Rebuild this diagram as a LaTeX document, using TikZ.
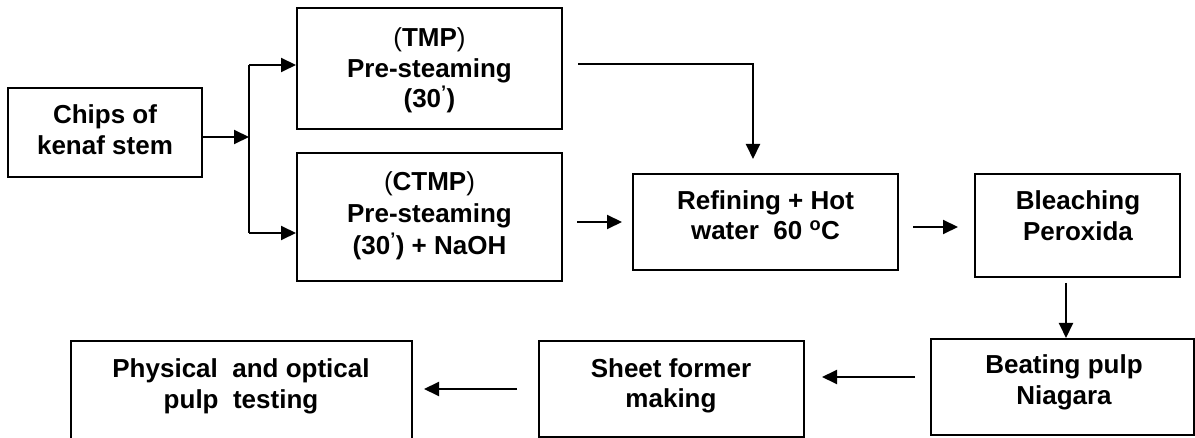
\documentclass[tikz,border=0pt]{standalone}
\usepackage{fontspec}
\setmainfont{Liberation Sans}
\usetikzlibrary{arrows.meta,calc}
\begin{document}
\begin{tikzpicture}[x=1pt,y=-1pt,
  box/.style={draw=black, line width=2pt, rectangle, inner sep=0pt},
  lbl/.style={anchor=base, align=center, inner sep=0pt, font=\fontsize{26}{31}\selectfont\bfseries},
  arr/.style={line width=2pt, -{Triangle[length=15pt,width=14pt]}},
  ln/.style={line width=2pt}]
\fill[white] (0,0) rectangle (1195,438);
\useasboundingbox (0,0) rectangle (1195,438);
% boxes
\node[box, minimum width=194pt, minimum height=89pt] (chips) at (105,132.5) {};
\node[box, minimum width=265pt, minimum height=121pt] (tmp) at (429.5,68.5) {};
\node[box, minimum width=265pt, minimum height=128pt] (ctmp) at (429.5,217) {};
\node[box, minimum width=265pt, minimum height=96pt] (refining) at (765.5,222) {};
\node[box, minimum width=205pt, minimum height=103pt] (bleaching) at (1077.5,225.5) {};
\node[box, minimum width=263pt, minimum height=96pt] (beating) at (1062.5,387) {};
\node[box, minimum width=265pt, minimum height=96pt] (sheet) at (671.5,389) {};
\node[box, minimum width=341pt, minimum height=110pt] (physical) at (241.5,396) {};
% texts (base anchor = last line's baseline)
\node[lbl] (chipsT) at (105,155) {Chips of\\kenaf stem};
\node[lbl, font=\fontsize{26}{30.5}\selectfont\bfseries] (tmpT) at (429.5,108) {{\mdseries(}TMP{\mdseries)}\\Pre-steaming\\(30\textsuperscript{’})};
\node[lbl, font=\fontsize{26}{32}\selectfont\bfseries] (ctmpT) at (429.5,255) {{\mdseries(}CTMP{\mdseries)}\\Pre-steaming\\(30\textsuperscript{’}) + NaOH};
\node[lbl, font=\fontsize{26}{30}\selectfont\bfseries] (refT) at (765.5,240) {Refining + Hot\\water\ \ 60 \textsuperscript{o}C};
\node[lbl] (bleT) at (1078,241) {Bleaching\\Peroxida};
\node[lbl, font=\fontsize{26}{32}\selectfont\bfseries] (beaT) at (1064,405) {Beating pulp\\Niagara};
\node[lbl, font=\fontsize{26}{30}\selectfont\bfseries] (sheT) at (671,407) {Sheet former\\making};
\node[lbl, font=\fontsize{26}{32}\selectfont\bfseries] (phyT) at (241,409) {Physical\ \ and optical\\pulp\ \ testing};
% junction
\coordinate (jm) at (249,137);
\coordinate (jt) at (249,65);
\coordinate (jb) at (249,233);
\coordinate (t2) at (753,64);
\draw[arr] (chips.east |- jm) -- (jm);
\draw[ln] (jt) -- (jb);
\draw[arr] (jt) -- (tmp.west |- jt);
\draw[arr] (jb) -- (ctmp.west |- jb);
% connectors
\draw[arr, shorten <=15pt, shorten >=14pt] (tmp.east |- t2) -- (t2) -- (t2 |- refining.north);
\draw[arr, shorten <=14pt, shorten >=10pt] (ctmp.east |- refining.west) -- (refining.west);
\draw[arr, shorten <=14pt, shorten >=16pt] ([yshift=-5pt]refining.east) -- ([yshift=-5pt]refining.east -| bleaching.west);
\draw[arr, shorten <=5pt] ([xshift=-11.5pt]bleaching.south) -- ([xshift=-11.5pt]bleaching.south |- beating.north);
\draw[arr, shorten <=15pt, shorten >=17pt] ([yshift=10pt]beating.west) -- ([yshift=10pt]beating.west -| sheet.east);
\draw[arr, shorten <=21pt, shorten >=11pt] (sheet.west) -- (sheet.west -| physical.east);
\end{tikzpicture}
\end{document}
